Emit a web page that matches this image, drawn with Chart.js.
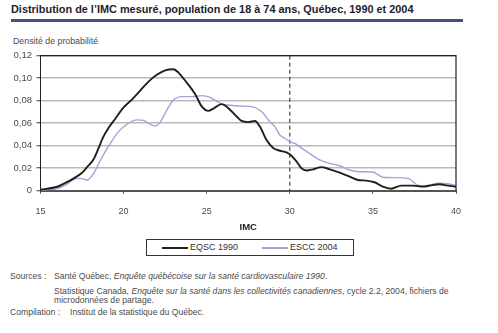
<!DOCTYPE html>
<html><head><meta charset="utf-8">
<script src="https://cdn.jsdelivr.net/npm/chart.js@4.4.1/dist/chart.umd.min.js"></script>
<style>
html,body{margin:0;padding:0;}
body{width:498px;height:333px;background:#fff;font-family:"Liberation Sans",Arial,sans-serif;position:relative;overflow:hidden;color:#444;}
#title{position:absolute;left:11px;top:2.5px;font-weight:bold;font-size:10.9px;color:#1e1e2a;white-space:nowrap;}
#rule{position:absolute;left:11px;top:19px;width:452px;height:2.5px;background:#44507f;}
#ylab{position:absolute;left:13px;top:36px;font-size:8.8px;color:#4a4a4a;white-space:nowrap;}
#wrap{position:absolute;left:0;top:30px;width:498px;height:205px;}
#legend{position:absolute;left:146px;top:239px;width:208px;height:17px;border:1px solid #333;box-sizing:border-box;}
.ls{position:absolute;top:7px;width:26px;height:2px;}
.lt{position:absolute;top:2px;font-size:9px;color:#333;white-space:nowrap;}
.src{position:absolute;font-size:8.6px;color:#4a4a4a;white-space:nowrap;}
.src i{font-style:italic;}
</style>
</head><body>
<div id="title">Distribution de l’IMC mesuré, population de 18 à 74 ans, Québec, 1990 et 2004</div>
<div id="rule"></div>
<div id="ylab">Densité de probabilité</div>
<div id="wrap"><canvas id="c"></canvas></div>
<div id="legend">
  <div class="ls" id="ls1" style="left:15px;"></div><div class="lt" id="lt1" style="left:43px;"></div>
  <div class="ls" id="ls2" style="left:115px;"></div><div class="lt" id="lt2" style="left:143px;"></div>
</div>
<div class="src" style="left:10px;top:271px;">Sources :</div>
<div class="src" style="left:54px;top:271px;">Santé Québec, <i>Enquête québécoise sur la santé cardiovasculaire 1990</i>.</div>
<div class="src" style="left:54px;top:285.5px;">Statistique Canada, <i>Enquête sur la santé dans les collectivités canadiennes</i>, cycle 2.2, 2004, fichiers de</div>
<div class="src" style="left:54px;top:295px;">microdonnées de partage.</div>
<div class="src" style="left:10px;top:306.5px;">Compilation :</div>
<div class="src" style="left:70px;top:306.5px;">Institut de la statistique du Québec.</div>
<script>
// ---- data ----
const seriesNames = ['EQSC 1990', 'ESCC 2004'];
const imc1990 = [15, 16, 16.5, 17, 17.5, 17.8, 18.2, 18.5, 18.75, 19.1, 19.5, 20, 20.5, 21, 21.5, 22, 22.5, 23, 23.3, 23.8, 24.3, 24.7, 25.1, 25.4, 25.9, 26.4, 26.8, 27.1, 27.5, 27.9, 28.2, 28.6, 29.0, 29.4, 29.8, 30.1, 30.4, 30.7, 31.0, 31.4, 31.9, 32.4, 33.0, 33.6, 34.1, 34.6, 35.1, 35.6, 36.1, 36.7, 37.4, 38.0, 38.6, 39.0, 39.5, 40];
const dens1990 = [0.001, 0.0035, 0.007, 0.011, 0.016, 0.021, 0.028, 0.038, 0.047, 0.056, 0.064, 0.074, 0.081, 0.089, 0.097, 0.103, 0.107, 0.108, 0.105, 0.096, 0.086, 0.075, 0.071, 0.073, 0.077, 0.072, 0.066, 0.062, 0.061, 0.062, 0.057, 0.045, 0.038, 0.0355, 0.034, 0.031, 0.026, 0.020, 0.018, 0.019, 0.021, 0.019, 0.016, 0.0125, 0.0095, 0.009, 0.0075, 0.0036, 0.0018, 0.0045, 0.0045, 0.0036, 0.005, 0.0057, 0.0045, 0.0035];
const imc2004 = [15, 16, 16.5, 17, 17.4, 17.8, 18.2, 18.6, 19.2, 19.7, 20.3, 20.8, 21.2, 21.6, 21.9, 22.2, 22.6, 23.0, 23.5, 24.2, 24.7, 25.2, 25.5, 25.9, 26.4, 27.0, 27.8, 28.2, 28.4, 28.8, 29.1, 29.4, 29.7, 30.0, 30.3, 30.6, 31.2, 31.8, 32.4, 33.0, 33.6, 34.2, 35.0, 35.6, 36.4, 37.1, 37.8, 38.4, 39.0, 39.6, 40];
const dens2004 = [0.0005, 0.002, 0.005, 0.010, 0.011, 0.0095, 0.0155, 0.027, 0.042, 0.0525, 0.060, 0.063, 0.0625, 0.059, 0.0575, 0.061, 0.0717, 0.0806, 0.0836, 0.0836, 0.0845, 0.083, 0.0806, 0.077, 0.076, 0.0753, 0.0745, 0.0715, 0.0688, 0.0613, 0.057, 0.0495, 0.0466, 0.0436, 0.042, 0.039, 0.033, 0.0273, 0.0243, 0.0222, 0.0184, 0.0169, 0.0166, 0.0119, 0.0116, 0.011, 0.0045, 0.005, 0.0066, 0.006, 0.0045];
const xTickLabels = ['15', '20', '25', '30', '35', '40'];
const yTickLabels = ['0', '0,02', '0,04', '0,06', '0,08', '0,10', '0,12'];
const obesityThreshold = 30;
const xAxisTitle = 'IMC';
// ---- styling ----
const colors = ['#1f1f1f', '#9ea6d8'];
const widths = [1.9, 1.4];

document.getElementById('ls1').style.background = colors[0];
document.getElementById('ls2').style.background = colors[1];
document.getElementById('lt1').textContent = seriesNames[0];
document.getElementById('lt2').textContent = seriesNames[1];

Chart.defaults.font.family = '"Liberation Sans", Arial, sans-serif';
Chart.defaults.color = '#4a4a4a';

const framePlugin = {
  id: 'frame',
  beforeDatasetsDraw(chart) {
    const {ctx, chartArea: a, scales: {x}} = chart;
    const px = x.getPixelForValue(obesityThreshold);
    ctx.save();
    ctx.strokeStyle = '#222';
    ctx.lineWidth = 1;
    ctx.setLineDash([4, 3]);
    ctx.beginPath();
    ctx.moveTo(px, a.top);
    ctx.lineTo(px, a.bottom);
    ctx.stroke();
    ctx.restore();
  },
  afterDraw(chart) {
    const {ctx, chartArea: a} = chart;
    ctx.save();
    ctx.strokeStyle = '#222';
    ctx.lineWidth = 1.2;
    ctx.beginPath();
    ctx.moveTo(a.left, a.top);
    ctx.lineTo(a.right, a.top);
    ctx.lineTo(a.right, a.bottom);
    ctx.stroke();
    ctx.restore();
  }
};

const makePts = (xs, ys) => xs.map((v, i) => ({x: v, y: ys[i]}));

new Chart(document.getElementById('c'), {
  type: 'line',
  data: {
    datasets: [
      {label: seriesNames[0], data: makePts(imc1990, dens1990), borderColor: colors[0], borderWidth: widths[0], pointRadius: 0, cubicInterpolationMode: 'monotone', fill: false},
      {label: seriesNames[1], data: makePts(imc2004, dens2004), borderColor: colors[1], borderWidth: widths[1], pointRadius: 0, cubicInterpolationMode: 'monotone', fill: false}
    ]
  },
  options: {
    responsive: true,
    maintainAspectRatio: false,
    animation: false,
    layout: {padding: {top: 25.7, right: 42, left: 0, bottom: 0}},
    plugins: {legend: {display: false}, tooltip: {enabled: false}},
    scales: {
      x: {
        type: 'linear', min: 15, max: 40,
        afterFit(s) { s.height = 44.3; },
        ticks: {stepSize: 5, padding: 12, font: {size: 9}, color: '#4a4a4a',
          callback: (v, i) => xTickLabels[i]},
        grid: {drawOnChartArea: false, drawTicks: true, tickLength: 3, color: '#555', lineWidth: 1},
        border: {color: '#555', width: 2},
        title: {display: true, text: xAxisTitle, font: {size: 9.5, weight: 'bold'}, color: '#222', padding: {top: 0, bottom: 2.3}}
      },
      y: {
        min: 0, max: 0.12,
        afterFit(s) { s.width = 40.5; },
        ticks: {stepSize: 0.02, padding: 4.5, font: {size: 9.5}, color: '#4a4a4a',
          callback: (v, i) => yTickLabels[i]},
        grid: {color: '#b9b9b9', lineWidth: 1.5, tickColor: '#333', tickLength: 4, tickWidth: 1},
        border: {color: '#222', width: 1}
      }
    }
  },
  plugins: [framePlugin]
});
</script>
</body></html>
